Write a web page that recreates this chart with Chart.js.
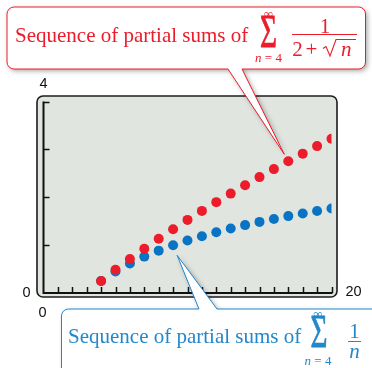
<!DOCTYPE html>
<html>
<head>
<meta charset="utf-8">
<script src="https://cdn.jsdelivr.net/npm/chart.js@4.4.0/dist/chart.umd.min.js"></script>
<style>
  html, body { margin: 0; padding: 0; background: #fff; overflow: hidden; }
  canvas { display: block; }
</style>
</head>
<body>
<canvas id="chart" width="372" height="368"></canvas>
<script>
// ── Data ─────────────────────────────────────────────────────────
const nValues      = [4, 5, 6, 7, 8, 9, 10, 11, 12, 13, 14, 15, 16, 17, 18, 19, 20];
// partial sums of 1/(2 + sqrt(n)), n = 4..N
const rootSums     = [0.25, 0.486, 0.711, 0.926, 1.133, 1.333, 1.527, 1.715, 1.898,
                      2.076, 2.251, 2.421, 2.588, 2.751, 2.911, 3.068, 3.223];
// partial sums of 1/n, n = 4..N
const harmonicSums = [0.25, 0.45, 0.617, 0.760, 0.885, 0.996, 1.096, 1.187, 1.270,
                      1.347, 1.418, 1.485, 1.547, 1.606, 1.662, 1.714, 1.764];
const xTicks = [1, 2, 3, 4, 5, 6, 7, 8, 9, 10, 11, 12, 13, 14, 15, 16, 17, 18, 19, 20];
const yTicks = [1, 2, 3, 4];
const xRange = [0, 20];
const yRange = [0, 4];

const RED   = "#ec1c2a";
const BLUE  = "#0a74c4";
const BLUE_TXT = "#2188cc";
const SERIF = '"Liberation Serif", "Times New Roman", serif';
const SANS  = '"Liberation Sans", Arial, sans-serif';

// ── Helpers ──────────────────────────────────────────────────────
function calloutPath(ctx, l, t, r, b, rad, edge, a, c, tip) {
    ctx.beginPath();
    ctx.moveTo(l + rad, t);
    if (edge === "top") { ctx.lineTo(a, t); ctx.lineTo(tip.x, tip.y); ctx.lineTo(c, t); }
    ctx.lineTo(r - rad, t);
    ctx.arcTo(r, t, r, t + rad, rad);
    ctx.lineTo(r, b - rad);
    ctx.arcTo(r, b, r - rad, b, rad);
    if (edge === "bottom") { ctx.lineTo(c, b); ctx.lineTo(tip.x, tip.y); ctx.lineTo(a, b); }
    ctx.lineTo(l + rad, b);
    ctx.arcTo(l, b, l, b - rad, rad);
    ctx.lineTo(l, t + rad);
    ctx.arcTo(l, t, l + rad, t, rad);
    ctx.closePath();
}

function drawCallout(ctx, color, box, edge, a, c, tip) {
    ctx.save();
    calloutPath(ctx, box[0], box[1], box[2], box[3], 7, edge, a, c, tip);
    ctx.shadowColor   = "rgba(0,0,0,0.35)";
    ctx.shadowBlur    = 5;
    ctx.shadowOffsetX = 2;
    ctx.shadowOffsetY = 2;
    ctx.fillStyle = "#fff";
    ctx.fill();
    ctx.shadowColor = "transparent";
    ctx.strokeStyle = color;
    ctx.lineWidth = 1;
    ctx.stroke();
    ctx.restore();
}

function drawSigma(ctx, cx, baseline, w, h) {
    ctx.save();
    ctx.font = "30px " + SERIF;
    const m = ctx.measureText("Σ");
    ctx.translate(cx, baseline);
    ctx.scale(w / m.width, h / m.actualBoundingBoxAscent);
    ctx.textAlign = "center";
    ctx.fillText("Σ", 0, 0);
    ctx.strokeStyle = ctx.fillStyle;
    ctx.lineWidth = 0.5;
    ctx.strokeText("Σ", 0, 0);
    ctx.restore();
}

function drawLimits(ctx, cx, topBase, botBase) {
    ctx.save();
    ctx.textAlign = "center";
    ctx.font = "13px " + SERIF;
    ctx.fillText("∞", cx, topBase);
    // "n = 4"
    ctx.font = "italic 13px " + SERIF;
    const wn = ctx.measureText("n").width;
    ctx.font = "13px " + SERIF;
    const wr = ctx.measureText(" = 4").width;
    const left = cx - (wn + wr) / 2;
    ctx.textAlign = "left";
    ctx.font = "italic 13px " + SERIF;
    ctx.fillText("n", left, botBase);
    ctx.font = "13px " + SERIF;
    ctx.fillText(" = 4", left + wn, botBase);
    ctx.restore();
}

// ── Screen plugin: frame, axes, labels, callouts ────────────────
const screenPlugin = {
    id: "screen",
    beforeDatasetsDraw(chart) {
        const { ctx, scales: { x, y } } = chart;
        const x0 = x.getPixelForValue(xRange[0]), x1 = x.getPixelForValue(xRange[1]);
        const y0 = y.getPixelForValue(yRange[0]), y1 = y.getPixelForValue(yRange[1]);
        ctx.save();
        // calculator screen
        ctx.beginPath();
        ctx.roundRect(x0 - 6.5, y1 - 5.5, x1 - x0 + 12, y0 - y1 + 9.5, 6);
        ctx.fillStyle = "#e1e5e0";
        ctx.fill();
        ctx.strokeStyle = "#1c1c1c";
        ctx.lineWidth = 1.6;
        ctx.stroke();
        // axes
        ctx.strokeStyle = "#111";
        ctx.lineWidth = 2;
        ctx.beginPath();
        ctx.moveTo(x0, y1);
        ctx.lineTo(x0, y0);
        ctx.lineTo(x1 + 1, y0);
        ctx.stroke();
        // ticks
        ctx.lineWidth = 1.5;
        ctx.beginPath();
        xTicks.forEach(v => {
            const px = Math.round(x.getPixelForValue(v)) + 0.5;
            ctx.moveTo(px, y0);
            ctx.lineTo(px, y0 - 6);
        });
        yTicks.forEach(v => {
            const py = Math.round(y.getPixelForValue(v)) + 0.5;
            ctx.moveTo(x0, py);
            ctx.lineTo(x0 + 6, py);
        });
        ctx.stroke();
        // window labels
        ctx.fillStyle = "#111";
        ctx.font = "14.5px " + SANS;
        ctx.textAlign = "center";
        ctx.textBaseline = "middle";
        ctx.fillText(String(yRange[1]), x0, y1 - 18);
        ctx.fillText(String(yRange[0]), x0 - 17, y0);
        ctx.fillText(String(xRange[0]), x0 - 1, y0 + 20);
        ctx.fillText(String(xRange[1]), x1 + 22, y0 - 1.5);
        ctx.restore();
    },
    afterDraw(chart) {
        const { ctx, scales: { x, y } } = chart;
        ctx.save();
        ctx.textBaseline = "alphabetic";

        // red callout -> point n = 17 of the 1/(2+sqrt n) series
        const redTip = { x: x.getPixelForValue(nValues[13]) - 4,
                         y: y.getPixelForValue(rootSums[13]) - 7 };
        drawCallout(ctx, RED, [7, 7, 365.5, 69], "bottom", 228, 242, redTip);
        ctx.fillStyle = RED;
        ctx.font = "21px " + SERIF;
        ctx.fillText("Sequence of partial sums of", 15, 42);
        drawSigma(ctx, 268.5, 47, 17, 29);
        drawLimits(ctx, 268.5, 18, 62);
        ctx.textAlign = "center";
        ctx.font = "21px " + SERIF;
        ctx.fillText("1", 325, 33);
        ctx.fillRect(292, 34, 65, 1);
        ctx.fillText("2", 297.5, 56);
        ctx.fillText("+", 311.5, 56);
        ctx.textAlign = "left";
        ctx.font = "italic 21px " + SERIF;
        ctx.fillText("n", 341, 56);
        ctx.strokeStyle = RED;
        ctx.lineWidth = 1.1;
        ctx.beginPath();
        ctx.moveTo(323, 48.5);
        ctx.lineTo(326, 46.5);
        ctx.lineTo(330, 56);
        ctx.lineTo(336, 39.5);
        ctx.lineTo(356, 39.5);
        ctx.stroke();

        // blue callout -> point n = 9 of the 1/n series
        const blueTip = { x: x.getPixelForValue(nValues[5]) + 4,
                          y: y.getPixelForValue(harmonicSums[5]) + 10 };
        drawCallout(ctx, BLUE_TXT, [61.5, 309, 385, 390], "top", 199, 217, blueTip);
        ctx.fillStyle = BLUE_TXT;
        ctx.font = "21px " + SERIF;
        ctx.textAlign = "left";
        ctx.fillText("Sequence of partial sums of", 68, 343);
        drawSigma(ctx, 319, 347, 17, 29);
        drawLimits(ctx, 318, 318, 365);
        ctx.textAlign = "center";
        ctx.font = "21px " + SERIF;
        ctx.fillText("1", 354.5, 338);
        ctx.fillRect(348, 341, 13, 1);
        ctx.font = "italic 21px " + SERIF;
        ctx.fillText("n", 354.5, 358);
        ctx.restore();
    }
};

// ── Chart ────────────────────────────────────────────────────────
new Chart(document.getElementById("chart"), {
    type: "scatter",
    data: {
        datasets: [
            {
                label: "Partial sums of 1/(2+√n)",
                data: nValues.map((n, i) => ({ x: n, y: rootSums[i] })),
                backgroundColor: RED,
                borderWidth: 0,
                pointRadius: 5,
            },
            {
                label: "Partial sums of 1/n",
                data: nValues.map((n, i) => ({ x: n, y: harmonicSums[i] })),
                backgroundColor: BLUE,
                borderWidth: 0,
                pointRadius: 5,
            }
        ]
    },
    options: {
        responsive: false,
        devicePixelRatio: 1,
        animation: false,
        events: [],
        layout: { padding: { left: 43.5, right: 40.5, top: 101.5, bottom: 75 } },
        plugins: { legend: { display: false }, tooltip: { enabled: false } },
        scales: {
            x: { type: "linear", min: xRange[0], max: xRange[1], display: false },
            y: { type: "linear", min: yRange[0], max: yRange[1], display: false }
        }
    },
    plugins: [screenPlugin]
});
</script>
</body>
</html>
